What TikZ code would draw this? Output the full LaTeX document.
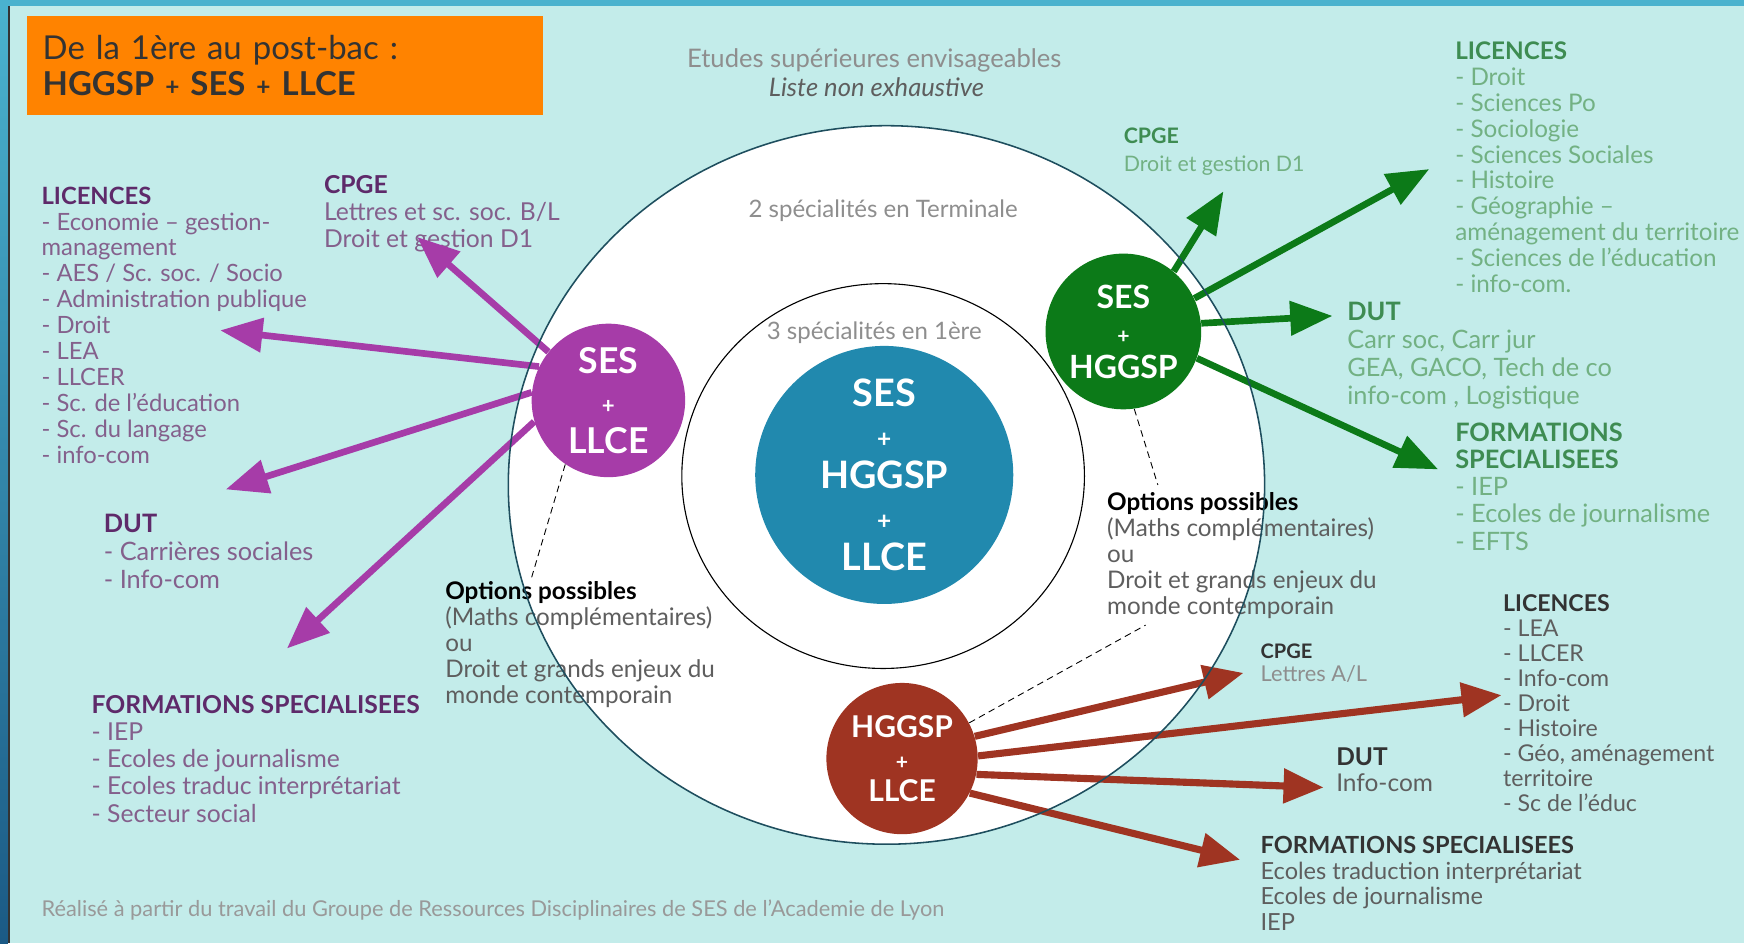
\documentclass[tikz,border=0pt]{standalone}
\usepackage{fontspec}
\setmainfont{Lato}
\usetikzlibrary{arrows.meta, shapes.geometric, positioning}

\definecolor{fond}{HTML}{C3ECEA}
\definecolor{bandeau}{HTML}{4AB2CE}
\definecolor{marine}{HTML}{1B5A85}
\definecolor{orangebox}{HTML}{FF8300}
\definecolor{bleuspe}{HTML}{2189AE}
\definecolor{violetspe}{HTML}{A63CA8}
\definecolor{violettitre}{HTML}{5E2A6A}
\definecolor{violettexte}{HTML}{84608C}
\definecolor{vertspe}{HTML}{0C7A18}
\definecolor{verttitre}{HTML}{3E8C52}
\definecolor{verttexte}{HTML}{72B183}
\definecolor{rougespe}{HTML}{9F3422}
\definecolor{grisfonce}{HTML}{333333}
\definecolor{grismoyen}{HTML}{5E5E5E}
\definecolor{grisclair}{HTML}{8E8E8E}
\definecolor{trait}{HTML}{1E4E5E}

\begin{document}
\begin{tikzpicture}[x=0.5pt, y=-0.5pt,
  txt/.style={anchor=north west, align=left, inner sep=0pt, font=\fontsize{10.7}{11.65}\selectfont},
  spe/.style={circle, text=white, align=center, inner sep=0pt},
  parr/.style={draw=violetspe, line width=3pt, -{Triangle[length=19pt,width=15pt]}},
  garr/.style={draw=vertspe, line width=3pt, -{Triangle[length=19pt,width=15pt]}},
  rarr/.style={draw=rougespe, line width=3.2pt, -{Triangle[length=18pt,width=15pt]}},
  lien/.style={draw=black, line width=0.4pt, densely dashed}]

  \fill[fond] (0,0) rectangle (1568,848);
  \fill[bandeau] (0,0) rectangle (1568,5.5);
  \shade[top color=bandeau, bottom color=marine] (0,5.5) rectangle (7,848);
  \fill[black!80] (7,5.5) rectangle (9,848);
  \useasboundingbox (0,0) rectangle (1568,848);

  \node[fill=orangebox, anchor=north west, minimum width=232pt, minimum height=44.5pt,
    inner xsep=7pt, inner ysep=0pt, text width=218pt, align=left, text=grisfonce,
    font=\fontsize{14.8}{16}\selectfont] (titre) at (24,14)
    {De la 1ère au post-bac :\\\textbf{HGGSP {\fontsize{11}{10}\selectfont+} SES {\fontsize{11}{10}\selectfont+} LLCE}};

  \node[font=\fontsize{11.5}{12}\selectfont, text=grisclair] (etudes) at (786,54) {Etudes supérieures envisageables};
  \node[font=\itshape\fontsize{11.5}{12}\selectfont, text=grismoyen] (liste) at (788,78) {Liste non exhaustive};

  \fill[white] (797,436) ellipse [x radius=170pt, y radius=161.5pt];
  \draw[black, line width=0.5pt, fill=white] (794,428) ellipse [x radius=90.5pt, y radius=86.5pt];

  \node[font=\fontsize{10.8}{12}\selectfont, text=grisclair] (term) at (794,189) {2 spécialités en Terminale};
  \node[font=\fontsize{10.8}{12}\selectfont, text=grisclair] (prem) at (786,299) {3 spécialités en 1ère};

  % textes de gauche
  \node[txt, text=violettexte] (licV) at (37,167.5) {\textcolor{violettitre}{\bfseries LICENCES}\\
    - Economie – gestion-\\management\\- AES / Sc. soc. / Socio\\- Administration publique\\
    - Droit\\- LEA\\- LLCER\\- Sc. de l’éducation\\- Sc. du langage\\- info-com};
  \node[txt, text=violettexte, font=\fontsize{11.1}{12}\selectfont] (cpgeV) at (291,157.5) {\textcolor{violettitre}{\bfseries CPGE}\\
    Lettres et sc. soc. B/L\\Droit et gestion D1};
  \node[txt, text=violettexte, font=\fontsize{11.4}{12.5}\selectfont] (dutV) at (93,462) {\textcolor{violettitre}{\bfseries DUT}\\
    - Carrières sociales\\- Info-com};
  \node[txt, text=violettexte, font=\fontsize{11.1}{12.25}\selectfont] (formV) at (82,624.5) {\textcolor{violettitre}{\bfseries FORMATIONS SPECIALISEES}\\
    - IEP\\- Ecoles de journalisme\\- Ecoles traduc interprétariat\\- Secteur social};

  % options
  \node[txt, text=grismoyen, font=\fontsize{10.9}{11.65}\selectfont] (optL) at (400,522.5) {\textcolor{black}{\bfseries Options possibles}\\
    (Maths complémentaires)\\ou\\Droit et grands enjeux du\\monde contemporain};
  \node[txt, text=grismoyen, font=\fontsize{10.9}{11.65}\selectfont] (optR) at (995,442.5) {\textcolor{black}{\bfseries Options possibles}\\
    (Maths complémentaires)\\ou\\Droit et grands enjeux du\\monde contemporain};

  % textes verts
  \node[txt, text=verttexte, font=\fontsize{9.6}{12.5}\selectfont] (cpgeG) at (1010,114.5) {\textcolor{verttitre}{\bfseries CPGE}\\
    Droit et gestion D1};
  \node[txt, text=verttexte, font=\fontsize{10.9}{11.6}\selectfont] (licG) at (1308,37.5) {\textcolor{verttitre}{\bfseries LICENCES}\\
    - Droit\\- Sciences Po\\- Sociologie\\- Sciences Sociales\\- Histoire\\- Géographie –\\
    aménagement du territoire\\- Sciences de l’éducation\\- info-com.};
  \node[txt, text=verttexte, font=\fontsize{11.4}{12.5}\selectfont] (dutG) at (1211,271.5) {\textcolor{verttitre}{\bfseries DUT}\\
    Carr soc, Carr jur\\GEA, GACO, Tech de co\\info-com , Logistique};
  \node[txt, text=verttexte, font=\fontsize{11.4}{12.25}\selectfont] (formG) at (1308,379.5) {\textcolor{verttitre}{\bfseries FORMATIONS}\\
    \textcolor{verttitre}{\bfseries SPECIALISEES}\\- IEP\\- Ecoles de journalisme\\- EFTS};

  % textes du bas
  \node[txt, text=grisclair, font=\fontsize{9.8}{10.5}\selectfont] (cpgeR) at (1133,578.5) {\textcolor{grisfonce}{\fontsize{9}{10.5}\selectfont\bfseries CPGE}\\
    Lettres A/L};
  \node[txt, text=grismoyen, font=\fontsize{10.4}{11.2}\selectfont] (licR) at (1351,534.5) {\textcolor{grisfonce}{\bfseries LICENCES}\\
    - LEA\\- LLCER\\- Info-com\\- Droit\\- Histoire\\- Géo, aménagement\\territoire\\- Sc de l’éduc};
  \node[txt, text=grismoyen, font=\fontsize{11}{12}\selectfont] (dutR) at (1201,671.5) {\textcolor{grisfonce}{\bfseries DUT}\\
    Info-com};
  \node[txt, text=grismoyen, font=\fontsize{10.6}{11.5}\selectfont] (formR) at (1133,751.5) {\textcolor{grisfonce}{\bfseries FORMATIONS SPECIALISEES}\\
    Ecoles traduction interprétariat\\Ecoles de journalisme\\IEP};

  \node[anchor=west, inner sep=0pt, font=\fontsize{9.8}{10}\selectfont, text=black!40] (source) at (37,818)
    {Réalisé à partir du travail du Groupe de Ressources Disciplinaires de SES de l’Academie de Lyon};

  % specialites
  \node[spe, fill=bleuspe, minimum size=116pt, font=\bfseries\fontsize{17}{18.5}\selectfont] (trio) at (795,427)
    {SES\\{\fontsize{11}{9}\selectfont+}\\HGGSP\\{\fontsize{11}{9}\selectfont+}\\LLCE};

  \coordinate (pv1) at (375,213);
  \coordinate (pv2) at (198,297);
  \coordinate (pv3) at (203,440);
  \coordinate (pv4) at (258,583);
  \coordinate (gv1) at (1100,172);
  \coordinate (gv2) at (1285,152);
  \coordinate (gv3) at (1198,284);
  \coordinate (gv4) at (1293,422);
  \coordinate (rv1) at (1118,605);
  \coordinate (rv2) at (1350,625);
  \coordinate (rv3) at (1190,708);
  \coordinate (rv4) at (1115,773);
  \coordinate (oL) at (478,519);
  \coordinate (oR) at (1041,436);
  \coordinate (oB) at (1030,562);

  \node[spe, fill=violetspe, minimum size=69pt, font=\bfseries\fontsize{16}{18}\selectfont] (violet) at (547,360)
    {SES\\{\fontsize{10}{9}\selectfont+}\\LLCE};
  \node[spe, fill=vertspe, minimum size=70pt, font=\bfseries\fontsize{14.4}{15.75}\selectfont] (vert) at (1010,298)
    {SES\\{\fontsize{9.5}{9}\selectfont+}\\HGGSP};
  \node[spe, fill=rougespe, minimum size=68pt, font=\bfseries\fontsize{13.5}{14.5}\selectfont] (rouge) at (811,682)
    {HGGSP\\{\fontsize{9.5}{9}\selectfont+}\\LLCE};

  \draw[parr] (violet.141) -- (pv1);
  \draw[parr] (violet.154) -- (pv2);
  \draw[parr] (violet.174) -- (pv3);
  \draw[parr] (violet.196) -- (pv4);
  \draw[garr] (vert.50) -- (gv1);
  \draw[garr] (vert.25) -- (gv2);
  \draw[garr] (vert.6) -- (gv3);
  \draw[garr] (vert.-20) -- (gv4);
  \draw[rarr] (rouge.17) -- (rv1);
  \draw[rarr] (rouge.2) -- (rv2);
  \draw[rarr] (rouge.-12) -- (rv3);
  \draw[rarr] (rouge.-27) -- (rv4);

  \draw[lien] (violet.236) -- (oL);
  \draw[lien] (vert.278) -- (oR);
  \draw[lien] (rouge.28) -- (oB);

  \draw[trait, line width=0.7pt] (797,436) ellipse [x radius=170pt, y radius=161.5pt];
\end{tikzpicture}
\end{document}
